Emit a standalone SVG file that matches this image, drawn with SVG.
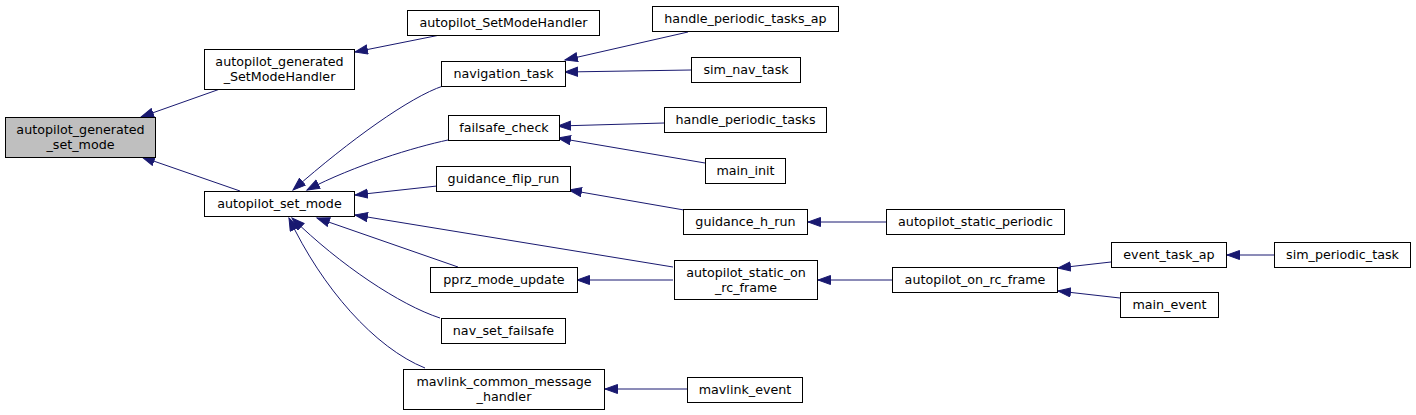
<svg xmlns="http://www.w3.org/2000/svg" width="1416" height="415" viewBox="0 0 1416 415">
<style>
rect.n{fill:#ffffff;stroke:#000000;stroke-width:1}
rect.cur{fill:#bfbfbf;stroke:#000000;stroke-width:1}
text{font-family:"DejaVu Sans",sans-serif;font-size:12.7px;fill:#000000;text-anchor:middle}
.e path{fill:none;stroke:#191970;stroke-width:1;marker-end:url(#ah)}
</style>
<defs>
<marker id="ah" markerWidth="15" markerHeight="12" refX="13" refY="5" orient="auto" markerUnits="userSpaceOnUse">
<path d="M0.5,0.5 L13,5 L0.5,9.5 z" fill="#191970" stroke="#191970" stroke-width="1"/>
</marker>
</defs>
<rect width="1416" height="415" fill="#ffffff"/>
<g class="e" id="edges">
<path d="M220,89 L141,117"/>
<path d="M240,191 L142,157"/>
<path d="M440,35 L355,52"/>
<path d="M443,86 C410,97 350,140 293,190"/>
<path d="M448,140 C415,147 355,165 307,190"/>
<path d="M437,186 L355,195"/>
<path d="M673,267 L355,215"/>
<path d="M458,267 L317,218"/>
<path d="M440,318 C400,305 340,265 292,218"/>
<path d="M425,368 C375,348 322,288 289,218"/>
<path d="M688,32 L565,60"/>
<path d="M691,70 L565,72"/>
<path d="M664,123 L558,126"/>
<path d="M705,163 L558,138"/>
<path d="M684,210 L569,190"/>
<path d="M886,222 L808,222"/>
<path d="M673,280 L577,280"/>
<path d="M892,280 L818,280"/>
<path d="M1111,262 L1058,268"/>
<path d="M1120,298 L1058,291"/>
<path d="M1274,255 L1227,255"/>
<path d="M687,389 L605,389"/>
</g>
<g id="n1"><rect class="cur" x="5.5" y="117.5" width="150" height="40"/><text x="80.5" y="134">autopilot_generated</text><text x="80.5" y="149">_set_mode</text></g>
<g id="n2"><rect class="n" x="204.5" y="49.5" width="150" height="40"/><text x="279.5" y="66">autopilot_generated</text><text x="279.5" y="81">_SetModeHandler</text></g>
<g id="n3"><rect class="n" x="204.5" y="191.5" width="150" height="25"/><text x="279.5" y="208">autopilot_set_mode</text></g>
<g id="n4"><rect class="n" x="407.5" y="10.5" width="192" height="25"/><text x="503.5" y="27">autopilot_SetModeHandler</text></g>
<g id="n5"><rect class="n" x="441.5" y="61.5" width="124" height="25"/><text x="503.5" y="78">navigation_task</text></g>
<g id="n6"><rect class="n" x="448.5" y="115.5" width="111" height="25"/><text x="504" y="132">failsafe_check</text></g>
<g id="n7"><rect class="n" x="436.5" y="166.5" width="134" height="25"/><text x="503.5" y="183">guidance_flip_run</text></g>
<g id="n8"><rect class="n" x="652.5" y="6.5" width="186" height="25"/><text x="745.5" y="23">handle_periodic_tasks_ap</text></g>
<g id="n9"><rect class="n" x="691.5" y="57.5" width="109" height="25"/><text x="746" y="74">sim_nav_task</text></g>
<g id="n10"><rect class="n" x="664.5" y="107.5" width="162" height="25"/><text x="745.5" y="124">handle_periodic_tasks</text></g>
<g id="n11"><rect class="n" x="705.5" y="158.5" width="80" height="25"/><text x="745.5" y="175">main_init</text></g>
<g id="n12"><rect class="n" x="683.5" y="209.5" width="124" height="25"/><text x="745.5" y="226">guidance_h_run</text></g>
<g id="n13"><rect class="n" x="674.5" y="260.5" width="143" height="39"/><text x="746" y="276.5">autopilot_static_on</text><text x="746" y="291.5">_rc_frame</text></g>
<g id="n14"><rect class="n" x="430.5" y="267.5" width="147" height="25"/><text x="504" y="284">pprz_mode_update</text></g>
<g id="n15"><rect class="n" x="441.5" y="318.5" width="124" height="25"/><text x="503.5" y="335">nav_set_failsafe</text></g>
<g id="n16"><rect class="n" x="403.5" y="369.5" width="201" height="40"/><text x="504" y="386">mavlink_common_message</text><text x="504" y="401">_handler</text></g>
<g id="n17"><rect class="n" x="687.5" y="377.5" width="115" height="25"/><text x="745" y="394">mavlink_event</text></g>
<g id="n18"><rect class="n" x="886.5" y="209.5" width="178" height="25"/><text x="975.5" y="226">autopilot_static_periodic</text></g>
<g id="n19"><rect class="n" x="892.5" y="267.5" width="165" height="25"/><text x="975" y="284">autopilot_on_rc_frame</text></g>
<g id="n20"><rect class="n" x="1111.5" y="242.5" width="115" height="25"/><text x="1169" y="259">event_task_ap</text></g>
<g id="n21"><rect class="n" x="1274.5" y="242.5" width="136" height="25"/><text x="1342.5" y="259">sim_periodic_task</text></g>
<g id="n22"><rect class="n" x="1120.5" y="292.5" width="98" height="25"/><text x="1169.5" y="309">main_event</text></g>
</svg>
